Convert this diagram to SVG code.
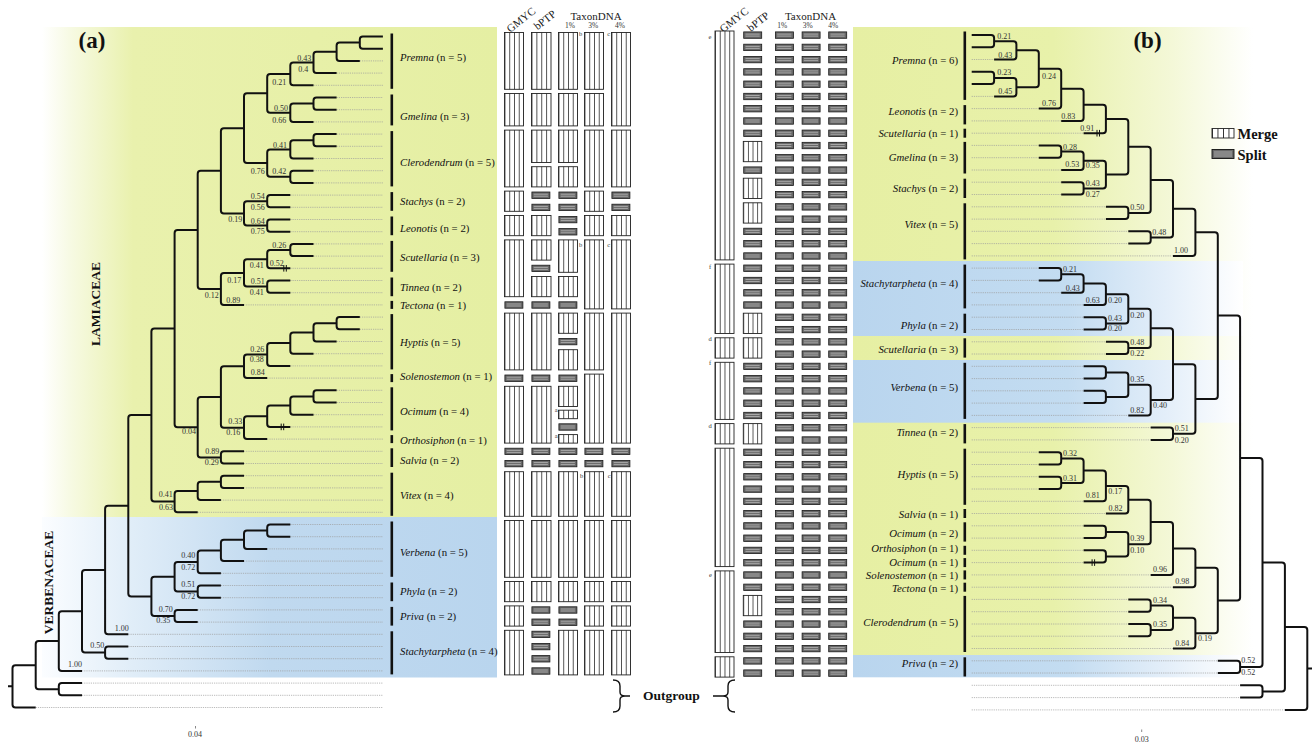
<svg xmlns="http://www.w3.org/2000/svg" xmlns:xlink="http://www.w3.org/1999/xlink" width="1314" height="745" viewBox="0 0 1314 745">
<style>
.br{fill:none;stroke:#111;stroke-width:2}
.dt{fill:none;stroke:#9c9c9c;stroke-width:0.7;stroke-dasharray:1.2 1}
.hs{fill:none;stroke:#111;stroke-width:1}
.sv{font-family:"Liberation Serif",serif;font-size:8px;fill:#333;text-anchor:middle}
.gl{font-family:"Liberation Serif",serif;font-size:10.8px;fill:#111}
.gr{font-family:"Liberation Serif",serif;font-size:10.8px;fill:#111;text-anchor:end}
.bar{fill:#111}
.m{fill:url(#mg);stroke:#222;stroke-width:0.9}
.hd{font-family:"Liberation Serif",serif;font-size:11px;fill:#222;text-anchor:middle}
.pc{font-family:"Liberation Serif",serif;font-size:7.5px;fill:#333;text-anchor:middle}
.an{font-family:"Liberation Serif",serif;font-size:6.5px;fill:#333;text-anchor:middle}
.bd{font-family:"Liberation Serif",serif;font-weight:bold;fill:#111}
</style>
<defs>
<pattern id="mg" patternUnits="objectBoundingBox" patternContentUnits="objectBoundingBox" width="0.25" height="1"><rect width="0.25" height="1" fill="#fff"/><rect x="0" y="0" width="0.04" height="1" fill="#222"/></pattern>
<g id="sp"><rect x="0.4" y="0.4" width="18" height="6.4" fill="#686868" stroke="#1a1a1a" stroke-width="0.8"/><path d="M2.2 2.6H16.4M2.2 4.6H16.4" stroke="#d4d4d4" stroke-width="0.6"/></g>
<g id="r3"><use href="#sp" x="775"/><use href="#sp" x="801.7"/><use href="#sp" x="828.3"/></g>
<linearGradient id="gyL" x1="0" x2="1" y1="0" y2="0"><stop offset="0" stop-color="#ffffff"/><stop offset="0.06" stop-color="#f7fae4"/><stop offset="0.2" stop-color="#e9f1ad"/><stop offset="1" stop-color="#e5efa3"/></linearGradient>
<linearGradient id="gbL" x1="0" x2="1" y1="0" y2="0"><stop offset="0" stop-color="#fbfdff"/><stop offset="0.2" stop-color="#e0edf8"/><stop offset="0.5" stop-color="#c0d9ef"/><stop offset="1" stop-color="#b9d5ee"/></linearGradient>
<linearGradient id="gyR" x1="0" x2="1" y1="0" y2="0"><stop offset="0" stop-color="#e6efa3"/><stop offset="0.5" stop-color="#e8f1aa"/><stop offset="0.8" stop-color="#f4f8d8"/><stop offset="1" stop-color="#ffffff"/></linearGradient>
<linearGradient id="gbR" x1="0" x2="1" y1="0" y2="0"><stop offset="0" stop-color="#b9d5ee"/><stop offset="0.55" stop-color="#c3dcf1"/><stop offset="0.8" stop-color="#e3eef9"/><stop offset="1" stop-color="#ffffff"/></linearGradient>
</defs>
<rect width="1314" height="745" fill="#fff"/>
<g id="panels">
<rect x="42" y="27" width="455" height="490" fill="url(#gyL)"/>
<rect x="42" y="517" width="455" height="160.5" fill="url(#gbL)"/>
<rect x="853" y="27" width="400" height="628" fill="url(#gyR)"/>
<rect x="853" y="261" width="390" height="75" fill="url(#gbR)"/>
<rect x="853" y="360" width="390" height="62.7" fill="url(#gbR)"/>
<rect x="853" y="655" width="390" height="22.3" fill="url(#gbR)"/>
</g>
<g id="titles">
<text class="bd" x="92" y="47.6" font-size="23" text-anchor="middle">(a)</text>
<text class="bd" x="1147.5" y="47.6" font-size="23" text-anchor="middle">(b)</text>
<text class="bd" font-size="13.5" text-anchor="middle" transform="translate(100,304) rotate(-90)">LAMIACEAE</text>
<text class="bd" font-size="13.5" text-anchor="middle" transform="translate(53.3,582.5) rotate(-90)">VERBENACEAE</text>
<text class="bd" x="643" y="700" font-size="13.5">Outgroup</text>
<path d="M613,680Q620,680 620,686V692Q620,696 625,696H630M625,696Q620,696 620,700V706Q620,712 613,712" fill="none" stroke="#111" stroke-width="1.4"/>
<path d="M735,680Q728,680 728,686V692Q728,696 723,696H713M723,696Q728,696 728,700V706Q728,712 735,712" fill="none" stroke="#111" stroke-width="1.4"/>
<text class="sv" x="195" y="737" font-size="9">0.04</text>
<path d="M195.5,726V728.5M1141.7,729.5V732" stroke="#555" stroke-width="0.7"/>
<text class="sv" x="1141.7" y="742" font-size="9">0.03</text>
</g>
<g id="legend">
<rect class="m" x="1212" y="128.5" width="22" height="9.5"/>
<text class="bd" x="1237.5" y="138.5" font-size="14.5">Merge</text>
<rect x="1212" y="149.5" width="22" height="9" fill="#686868" stroke="#111" stroke-width="0.9"/>
<path d="M1214,152H1232M1214,154H1232M1214,156H1232" stroke="#d4d4d4" stroke-width="0.6"/>
<text class="bd" x="1237.5" y="159.5" font-size="14.5">Split</text>
</g>
<g id="headers">
<text class="hd" transform="translate(521,20) rotate(-38)" y="3.5">GMYC</text>
<text class="hd" transform="translate(545,20) rotate(-38)" y="3.5">bPTP</text>
<text class="hd" x="596" y="19.7" font-size="10.5">TaxonDNA</text>
<text class="pc" x="570" y="27.5">1%</text><text class="pc" x="593.3" y="27.5">3%</text><text class="pc" x="620" y="27.5">4%</text>
<text class="hd" transform="translate(734,20) rotate(-38)" y="3.5">GMYC</text>
<text class="hd" transform="translate(758.3,21.7) rotate(-38)" y="3.5">bPTP</text>
<text class="hd" x="810.5" y="19.7" font-size="10.5">TaxonDNA</text>
<text class="pc" x="782.3" y="27.5">1%</text><text class="pc" x="807.7" y="27.5">3%</text><text class="pc" x="833.3" y="27.5">4%</text>
</g>
<g id="connectors">
<path class="dt" d="M359.8,60.9H383M336.6,73.1H383M313.5,85.3H383M336.6,97.5H383M336.6,109.7H383M313.5,121.9H383M336.6,134.1H383M336.6,146.3H383M313.5,158.5H383M313.5,170.7H383M313.5,182.9H383M290.3,195.1H383M290.3,207.3H383M290.3,219.5H383M290.3,231.7H383M313.5,243.9H383M313.5,256.1H383M290.3,268.3H383M290.3,280.5H383M290.3,292.7H383M244,304.9H383M359.8,317.1H383M359.8,329.3H383M336.6,341.5H383M313.5,353.7H383M290.3,365.9H383M267.2,378.1H383M336.6,390.3H383M336.6,402.5H383M313.5,414.7H383M290.3,426.9H383M267.2,439.1H383M244,451.3H383M244,463.5H383M244,475.7H383M244,487.9H383M220.9,500.1H383M197.7,512.3H383M290.3,524.5H383M290.3,536.7H383M267.2,548.9H383M244,561.1H383M220.9,573.3H383M220.9,585.5H383M220.9,597.7H383M197.7,609.9H383M197.7,622.1H383M128.3,634.3H383M128.3,646.5H383M128.3,658.7H383M82,670.9H383M82,683.1H383M82,695.3H383M35.7,707.5H383"/>
<path class="dt" d="M971.7,59.5H994.1M971.7,96.4H994.1M971.7,108.6H1038.8M971.7,120.9H1061.2M971.7,133.2H1083.6M971.7,145.4H1038.8M971.7,157.7H1038.8M971.7,170H1061.2M971.7,182.2H1061.2M971.7,194.5H1061.2M971.7,206.8H1105.9M971.7,219.1H1105.9M971.7,231.3H1128.3M971.7,243.6H1128.3M971.7,255.9H1173M971.7,268.1H1038.8M971.7,280.4H1038.8M971.7,292.7H1061.2M971.7,304.9H1083.6M971.7,317.2H1083.6M971.7,329.5H1083.6M971.7,341.8H1105.9M971.7,354H1105.9M971.7,366.3H1083.6M971.7,378.6H1083.6M971.7,390.8H1083.6M971.7,403.1H1083.6M971.7,415.4H1128.3M971.7,427.6H1150.7M971.7,439.9H1150.7M971.7,452.2H1038.8M971.7,464.5H1038.8M971.7,476.7H1038.8M971.7,489H1038.8M971.7,501.3H1083.6M971.7,513.5H1105.9M971.7,525.8H1083.6M971.7,538.1H1083.6M971.7,550.3H1083.6M971.7,562.6H1083.6M971.7,574.9H1150.7M971.7,587.2H1173M971.7,599.4H1128.3M971.7,611.7H1128.3M971.7,624H1128.3M971.7,636.2H1128.3M971.7,648.5H1173M971.7,660.8H1217.8M971.7,673H1217.8M971.7,685.3H1240.1M971.7,697.6H1240.1M971.7,709.9H1284.9"/>
<path class="br" d="M382.9,36.5H362.8Q359.8,36.5 359.8,39.5V45.7Q359.8,48.7 362.8,48.7H382.9
M359.8,42.6H339.6Q336.6,42.6 336.6,45.6V57.9Q336.6,60.9 339.6,60.9H359.8
M336.6,51.8H316.5Q313.5,51.8 313.5,54.8V70.1Q313.5,73.1 316.5,73.1H336.6
M313.5,62.4H293.3Q290.3,62.4 290.3,65.4V82.3Q290.3,85.3 293.3,85.3H313.5
M336.6,97.5H316.5Q313.5,97.5 313.5,100.5V106.7Q313.5,109.7 316.5,109.7H336.6
M313.5,103.6H293.3Q290.3,103.6 290.3,106.6V118.9Q290.3,121.9 293.3,121.9H313.5
M290.3,73.9H270.2Q267.2,73.9 267.2,76.9V109.8Q267.2,112.8 270.2,112.8H290.3
M336.6,134.1H316.5Q313.5,134.1 313.5,137.1V143.3Q313.5,146.3 316.5,146.3H336.6
M313.5,140.2H293.3Q290.3,140.2 290.3,143.2V155.5Q290.3,158.5 293.3,158.5H313.5
M313.5,170.7H293.3Q290.3,170.7 290.3,173.7V179.9Q290.3,182.9 293.3,182.9H313.5
M290.3,149.4H270.2Q267.2,149.4 267.2,152.4V173.8Q267.2,176.8 270.2,176.8H290.3
M267.2,93.3H247Q244,93.3 244,96.3V160.1Q244,163.1 247,163.1H267.2
M290.3,195.1H270.2Q267.2,195.1 267.2,198.1V204.3Q267.2,207.3 270.2,207.3H290.3
M290.3,219.5H270.2Q267.2,219.5 267.2,222.5V228.7Q267.2,231.7 270.2,231.7H290.3
M267.2,201.2H247Q244,201.2 244,204.2V222.6Q244,225.6 247,225.6H267.2
M244,128.2H223.9Q220.9,128.2 220.9,131.2V210.4Q220.9,213.4 223.9,213.4H244
M313.5,243.9H293.3Q290.3,243.9 290.3,246.9V253.1Q290.3,256.1 293.3,256.1H313.5
M290.3,250H270.2Q267.2,250 267.2,253V265.3Q267.2,268.3 270.2,268.3H290.3
M290.3,280.5H270.2Q267.2,280.5 267.2,283.5V289.7Q267.2,292.7 270.2,292.7H290.3
M267.2,259.2H247Q244,259.2 244,262.2V283.6Q244,286.6 247,286.6H267.2
M244,272.9H223.9Q220.9,272.9 220.9,275.9V301.9Q220.9,304.9 223.9,304.9H244
M220.9,170.8H200.7Q197.7,170.8 197.7,173.8V285.9Q197.7,288.9 200.7,288.9H220.9
M359.8,317.1H339.6Q336.6,317.1 336.6,320.1V326.3Q336.6,329.3 339.6,329.3H359.8
M336.6,323.2H316.5Q313.5,323.2 313.5,326.2V338.5Q313.5,341.5 316.5,341.5H336.6
M313.5,332.4H293.3Q290.3,332.4 290.3,335.4V350.7Q290.3,353.7 293.3,353.7H313.5
M290.3,343H270.2Q267.2,343 267.2,346V362.9Q267.2,365.9 270.2,365.9H290.3
M267.2,354.5H247Q244,354.5 244,357.5V375.1Q244,378.1 247,378.1H267.2
M336.6,390.3H316.5Q313.5,390.3 313.5,393.3V399.5Q313.5,402.5 316.5,402.5H336.6
M313.5,396.4H293.3Q290.3,396.4 290.3,399.4V411.7Q290.3,414.7 293.3,414.7H313.5
M290.3,405.6H270.2Q267.2,405.6 267.2,408.6V423.9Q267.2,426.9 270.2,426.9H290.3
M267.2,416.2H247Q244,416.2 244,419.2V436.1Q244,439.1 247,439.1H267.2
M244,366.3H223.9Q220.9,366.3 220.9,369.3V424.7Q220.9,427.7 223.9,427.7H244
M244,451.3H223.9Q220.9,451.3 220.9,454.3V460.5Q220.9,463.5 223.9,463.5H244
M220.9,397H200.7Q197.7,397 197.7,400V454.4Q197.7,457.4 200.7,457.4H220.9
M197.7,229.9H177.6Q174.6,229.9 174.6,232.9V424.2Q174.6,427.2 177.6,427.2H197.7
M244,475.7H223.9Q220.9,475.7 220.9,478.7V484.9Q220.9,487.9 223.9,487.9H244
M220.9,481.8H200.7Q197.7,481.8 197.7,484.8V497.1Q197.7,500.1 200.7,500.1H220.9
M197.7,491H177.6Q174.6,491 174.6,494V509.3Q174.6,512.3 177.6,512.3H197.7
M174.6,328.5H154.4Q151.4,328.5 151.4,331.5V498.6Q151.4,501.6 154.4,501.6H174.6
M290.3,524.5H270.2Q267.2,524.5 267.2,527.5V533.7Q267.2,536.7 270.2,536.7H290.3
M267.2,530.6H247Q244,530.6 244,533.6V545.9Q244,548.9 247,548.9H267.2
M244,539.8H223.9Q220.9,539.8 220.9,542.8V558.1Q220.9,561.1 223.9,561.1H244
M220.9,550.4H200.7Q197.7,550.4 197.7,553.4V570.3Q197.7,573.3 200.7,573.3H220.9
M220.9,585.5H200.7Q197.7,585.5 197.7,588.5V594.7Q197.7,597.7 200.7,597.7H220.9
M197.7,561.9H177.6Q174.6,561.9 174.6,564.9V588.6Q174.6,591.6 177.6,591.6H197.7
M197.7,609.9H177.6Q174.6,609.9 174.6,612.9V619.1Q174.6,622.1 177.6,622.1H197.7
M174.6,576.7H154.4Q151.4,576.7 151.4,579.7V613Q151.4,616 154.4,616H174.6
M151.4,415.1H131.3Q128.3,415.1 128.3,418.1V593.4Q128.3,596.4 131.3,596.4H151.4
M128.3,505.7H108.1Q105.1,505.7 105.1,508.7V631.3Q105.1,634.3 108.1,634.3H128.3
M128.3,646.5H108.1Q105.1,646.5 105.1,649.5V655.7Q105.1,658.7 108.1,658.7H128.3
M105.1,570H85Q82,570 82,573V649.6Q82,652.6 85,652.6H105.1
M82,611.3H61.8Q58.8,611.3 58.8,614.3V667.9Q58.8,670.9 61.8,670.9H82
M82,683.1H61.8Q58.8,683.1 58.8,686.1V692.3Q58.8,695.3 61.8,695.3H82
M58.8,641.1H38.7Q35.7,641.1 35.7,644.1V686.2Q35.7,689.2 38.7,689.2H58.8
M35.7,665.2H15.5Q12.5,665.2 12.5,668.2V704.5Q12.5,707.5 15.5,707.5H35.7
M8,686.3H12.5"/>
<path class="br" d="M971.7,35H991.1Q994.1,35 994.1,38V44.3Q994.1,47.3 991.1,47.3H971.7
M994.1,41.2H1013.4Q1016.4,41.2 1016.4,44.2V56.5Q1016.4,59.5 1013.4,59.5H994.1
M971.7,71.8H991.1Q994.1,71.8 994.1,74.8V81.1Q994.1,84.1 991.1,84.1H971.7
M994.1,78H1013.4Q1016.4,78 1016.4,81V93.4Q1016.4,96.4 1013.4,96.4H994.1
M1016.4,50.3H1035.8Q1038.8,50.3 1038.8,53.3V84.2Q1038.8,87.2 1035.8,87.2H1016.4
M1038.8,68.8H1058.2Q1061.2,68.8 1061.2,71.8V105.6Q1061.2,108.6 1058.2,108.6H1038.8
M1061.2,88.7H1080.6Q1083.6,88.7 1083.6,91.7V117.9Q1083.6,120.9 1080.6,120.9H1061.2
M1083.6,104.8H1102.9Q1105.9,104.8 1105.9,107.8V130.2Q1105.9,133.2 1102.9,133.2H1083.6
M1038.8,145.4H1058.2Q1061.2,145.4 1061.2,148.4V154.7Q1061.2,157.7 1058.2,157.7H1038.8
M1061.2,151.6H1080.6Q1083.6,151.6 1083.6,154.6V167Q1083.6,170 1080.6,170H1061.2
M1061.2,182.2H1080.6Q1083.6,182.2 1083.6,185.2V191.5Q1083.6,194.5 1080.6,194.5H1061.2
M1083.6,160.8H1102.9Q1105.9,160.8 1105.9,163.8V185.4Q1105.9,188.4 1102.9,188.4H1083.6
M1105.9,119H1125.3Q1128.3,119 1128.3,122V171.6Q1128.3,174.6 1125.3,174.6H1105.9
M1105.9,206.8H1125.3Q1128.3,206.8 1128.3,209.8V216.1Q1128.3,219.1 1125.3,219.1H1105.9
M1128.3,146.8H1147.7Q1150.7,146.8 1150.7,149.8V210Q1150.7,213 1147.7,213H1128.3
M1128.3,231.3H1147.7Q1150.7,231.3 1150.7,234.3V240.6Q1150.7,243.6 1147.7,243.6H1128.3
M1150.7,179.9H1170Q1173,179.9 1173,182.9V234.5Q1173,237.5 1170,237.5H1150.7
M1173,208.7H1192.4Q1195.4,208.7 1195.4,211.7V252.9Q1195.4,255.9 1192.4,255.9H1173
M1038.8,268.1H1058.2Q1061.2,268.1 1061.2,271.1V277.4Q1061.2,280.4 1058.2,280.4H1038.8
M1061.2,274.3H1080.6Q1083.6,274.3 1083.6,277.3V289.7Q1083.6,292.7 1080.6,292.7H1061.2
M1083.6,283.5H1102.9Q1105.9,283.5 1105.9,286.5V301.9Q1105.9,304.9 1102.9,304.9H1083.6
M1083.6,317.2H1102.9Q1105.9,317.2 1105.9,320.2V326.5Q1105.9,329.5 1102.9,329.5H1083.6
M1105.9,294.2H1125.3Q1128.3,294.2 1128.3,297.2V320.4Q1128.3,323.4 1125.3,323.4H1105.9
M1105.9,341.8H1125.3Q1128.3,341.8 1128.3,344.8V351Q1128.3,354 1125.3,354H1105.9
M1128.3,308.8H1147.7Q1150.7,308.8 1150.7,311.8V344.9Q1150.7,347.9 1147.7,347.9H1128.3
M1083.6,366.3H1102.9Q1105.9,366.3 1105.9,369.3V375.6Q1105.9,378.6 1102.9,378.6H1083.6
M1083.6,390.8H1102.9Q1105.9,390.8 1105.9,393.8V400.1Q1105.9,403.1 1102.9,403.1H1083.6
M1105.9,372.5H1125.3Q1128.3,372.5 1128.3,375.5V394Q1128.3,397 1125.3,397H1105.9
M1128.3,384.7H1147.7Q1150.7,384.7 1150.7,387.7V412.4Q1150.7,415.4 1147.7,415.4H1128.3
M1150.7,328.3H1170Q1173,328.3 1173,331.3V397.1Q1173,400.1 1170,400.1H1150.7
M1150.7,427.6H1170Q1173,427.6 1173,430.6V436.9Q1173,439.9 1170,439.9H1150.7
M1173,364.2H1192.4Q1195.4,364.2 1195.4,367.2V430.8Q1195.4,433.8 1192.4,433.8H1173
M1195.4,232.3H1214.8Q1217.8,232.3 1217.8,235.3V396Q1217.8,399 1214.8,399H1195.4
M1038.8,452.2H1058.2Q1061.2,452.2 1061.2,455.2V461.5Q1061.2,464.5 1058.2,464.5H1038.8
M1038.8,476.7H1058.2Q1061.2,476.7 1061.2,479.7V486Q1061.2,489 1058.2,489H1038.8
M1061.2,458.4H1080.6Q1083.6,458.4 1083.6,461.4V479.9Q1083.6,482.9 1080.6,482.9H1061.2
M1083.6,470.6H1102.9Q1105.9,470.6 1105.9,473.6V498.3Q1105.9,501.3 1102.9,501.3H1083.6
M1105.9,486H1125.3Q1128.3,486 1128.3,489V510.5Q1128.3,513.5 1125.3,513.5H1105.9
M1083.6,525.8H1102.9Q1105.9,525.8 1105.9,528.8V535.1Q1105.9,538.1 1102.9,538.1H1083.6
M1083.6,550.3H1102.9Q1105.9,550.3 1105.9,553.3V559.6Q1105.9,562.6 1102.9,562.6H1083.6
M1105.9,532H1125.3Q1128.3,532 1128.3,535V553.5Q1128.3,556.5 1125.3,556.5H1105.9
M1128.3,499.7H1147.7Q1150.7,499.7 1150.7,502.7V541.2Q1150.7,544.2 1147.7,544.2H1128.3
M1150.7,522H1170Q1173,522 1173,525V571.9Q1173,574.9 1170,574.9H1150.7
M1173,548.4H1192.4Q1195.4,548.4 1195.4,551.4V584.2Q1195.4,587.2 1192.4,587.2H1173
M1128.3,599.4H1147.7Q1150.7,599.4 1150.7,602.4V608.7Q1150.7,611.7 1147.7,611.7H1128.3
M1128.3,624H1147.7Q1150.7,624 1150.7,627V633.2Q1150.7,636.2 1147.7,636.2H1128.3
M1150.7,605.6H1170Q1173,605.6 1173,608.6V627.1Q1173,630.1 1170,630.1H1150.7
M1173,617.8H1192.4Q1195.4,617.8 1195.4,620.8V645.5Q1195.4,648.5 1192.4,648.5H1173
M1195.4,567.8H1214.8Q1217.8,567.8 1217.8,570.8V630.2Q1217.8,633.2 1214.8,633.2H1195.4
M1217.8,315.6H1237.1Q1240.1,315.6 1240.1,318.6V597.5Q1240.1,600.5 1237.1,600.5H1217.8
M1217.8,660.8H1237.1Q1240.1,660.8 1240.1,663.8V670Q1240.1,673 1237.1,673H1217.8
M1240.1,458.1H1259.5Q1262.5,458.1 1262.5,461.1V663.9Q1262.5,666.9 1259.5,666.9H1240.1
M1240.1,685.3H1259.5Q1262.5,685.3 1262.5,688.3V694.6Q1262.5,697.6 1259.5,697.6H1240.1
M1262.5,562.5H1281.9Q1284.9,562.5 1284.9,565.5V688.5Q1284.9,691.5 1281.9,691.5H1262.5
M1284.9,627H1304.3Q1307.3,627 1307.3,630V706.9Q1307.3,709.9 1304.3,709.9H1284.9
M1307.3,668.4H1312"/>
<path class="hs" d="M283.8,265V271.6M286.3,265V271.6M281.2,423.6V430.2M283.7,423.6V430.2M1097,129.9V136.5M1099.5,129.9V136.5M1092.1,559.3V565.9M1094.6,559.3V565.9"/>
</g>
<g id="support-left">
<text class="sv" x="304.3" y="60.9">0.43</text><text class="sv" x="303.3" y="71.9">0.4</text><text class="sv" x="279.3" y="84.9">0.21</text>
<text class="sv" x="281" y="110.9">0.50</text><text class="sv" x="279.3" y="122.6">0.66</text>
<text class="sv" x="280" y="148.3">0.41</text><text class="sv" x="257.7" y="173.9">0.76</text><text class="sv" x="279.3" y="173.9">0.42</text>
<text class="sv" x="257.7" y="198.9">0.54</text><text class="sv" x="257.7" y="209.9">0.56</text><text class="sv" x="235.3" y="221.6">0.19</text>
<text class="sv" x="257.7" y="223.6">0.64</text><text class="sv" x="257.7" y="234.3">0.75</text>
<text class="sv" x="279.3" y="247.9">0.26</text><text class="sv" x="256.7" y="267.6">0.41</text><text class="sv" x="276.7" y="265.9">0.52</text>
<text class="sv" x="234.3" y="282.9">0.17</text><text class="sv" x="257.7" y="283.9">0.51</text><text class="sv" x="256.7" y="294.9">0.41</text>
<text class="sv" x="211.7" y="297.9">0.12</text><text class="sv" x="233.3" y="302.6">0.89</text>
<text class="sv" x="257.3" y="351.6">0.26</text><text class="sv" x="256.7" y="361.9">0.38</text><text class="sv" x="257.7" y="374.9">0.84</text>
<text class="sv" x="235.3" y="423.9">0.33</text><text class="sv" x="189" y="434.3">0.04</text><text class="sv" x="233.3" y="435.3">0.16</text>
<text class="sv" x="212.3" y="453.6">0.89</text><text class="sv" x="211.7" y="464.9">0.29</text>
<text class="sv" x="165.7" y="496.9">0.41</text><text class="sv" x="166" y="509.9">0.63</text>
<text class="sv" x="188.3" y="557.9">0.40</text><text class="sv" x="188.3" y="569.9">0.72</text>
<text class="sv" x="188.3" y="586.9">0.51</text><text class="sv" x="188.3" y="598.9">0.72</text>
<text class="sv" x="165.7" y="611.6">0.70</text><text class="sv" x="163.3" y="622.9">0.35</text>
<text class="sv" x="121.7" y="630.9">1.00</text><text class="sv" x="97.3" y="647.9">0.50</text><text class="sv" x="75" y="666.9">1.00</text>
</g>
<g id="support-right">
<text class="sv" x="1004.3" y="39.3">0.21</text><text class="sv" x="1005.3" y="57.6">0.43</text><text class="sv" x="1049" y="78.6">0.24</text>
<text class="sv" x="1004.3" y="75.3">0.23</text><text class="sv" x="1005.3" y="93.6">0.45</text><text class="sv" x="1049" y="105.9">0.76</text>
<text class="sv" x="1068.3" y="119.3">0.83</text><text class="sv" x="1087.3" y="130.9">0.91</text>
<text class="sv" x="1070" y="149.6">0.28</text><text class="sv" x="1072.3" y="167.3">0.53</text><text class="sv" x="1092.7" y="168.3">0.35</text>
<text class="sv" x="1092.7" y="185.9">0.43</text><text class="sv" x="1092.7" y="196.9">0.27</text>
<text class="sv" x="1137.3" y="209.9">0.50</text><text class="sv" x="1159.3" y="234.9">0.48</text><text class="sv" x="1181" y="252.6">1.00</text>
<text class="sv" x="1070" y="271.9">0.21</text><text class="sv" x="1072.7" y="290.9">0.43</text>
<text class="sv" x="1092.7" y="302.9">0.63</text><text class="sv" x="1115" y="302.9">0.20</text>
<text class="sv" x="1137.3" y="317.9">0.20</text><text class="sv" x="1115" y="320.9">0.43</text><text class="sv" x="1115" y="331.3">0.20</text>
<text class="sv" x="1137.3" y="344.9">0.48</text><text class="sv" x="1137.3" y="355.9">0.22</text>
<text class="sv" x="1137.3" y="381.9">0.35</text><text class="sv" x="1137.3" y="412.9">0.82</text><text class="sv" x="1160" y="407.9">0.40</text>
<text class="sv" x="1181.7" y="430.9">0.51</text><text class="sv" x="1181.7" y="442.9">0.20</text>
<text class="sv" x="1070" y="455.6">0.32</text><text class="sv" x="1070" y="480.9">0.31</text>
<text class="sv" x="1092.7" y="497.9">0.81</text><text class="sv" x="1115.3" y="494">0.17</text><text class="sv" x="1115.5" y="510.6">0.82</text>
<text class="sv" x="1137.3" y="540.9">0.39</text><text class="sv" x="1137.3" y="552.6">0.10</text>
<text class="sv" x="1160" y="571.9">0.96</text><text class="sv" x="1182.3" y="584.3">0.98</text>
<text class="sv" x="1160" y="602.6">0.34</text><text class="sv" x="1160" y="626.9">0.35</text>
<text class="sv" x="1182.3" y="645.9">0.84</text><text class="sv" x="1205" y="640.9">0.19</text>
<text class="sv" x="1248.3" y="662.9">0.52</text><text class="sv" x="1248.3" y="674.9">0.52</text>
</g>
<g id="taxa-left">
<g id="L-premna"><rect class="bar" x="390.5" y="33.5" width="2.6" height="55.3"/><text class="gl" x="400" y="61.2"><tspan font-style="italic">Premna</tspan> (n = 5)</text></g>
<g id="L-gmelina"><rect class="bar" x="390.5" y="94.5" width="2.6" height="30.9"/><text class="gl" x="400" y="120.2"><tspan font-style="italic">Gmelina</tspan> (n = 3)</text></g>
<g id="L-clerodendrum"><rect class="bar" x="390.5" y="131.1" width="2.6" height="55.3"/><text class="gl" x="400" y="166.2"><tspan font-style="italic">Clerodendrum</tspan> (n = 5)</text></g>
<g id="L-stachys"><rect class="bar" x="390.5" y="192.1" width="2.6" height="18.7"/><text class="gl" x="400" y="205.2"><tspan font-style="italic">Stachys</tspan> (n = 2)</text></g>
<g id="L-leonotis"><rect class="bar" x="390.5" y="216.5" width="2.6" height="18.7"/><text class="gl" x="400" y="231.8"><tspan font-style="italic">Leonotis</tspan> (n = 2)</text></g>
<g id="L-scutellaria"><rect class="bar" x="390.5" y="240.9" width="2.6" height="30.9"/><text class="gl" x="400" y="261.2"><tspan font-style="italic">Scutellaria</tspan> (n = 3)</text></g>
<g id="L-tinnea"><rect class="bar" x="390.5" y="277.5" width="2.6" height="18.7"/><text class="gl" x="400" y="290.8"><tspan font-style="italic">Tinnea</tspan> (n = 2)</text></g>
<g id="L-tectona"><rect class="bar" x="390.5" y="300.9" width="2.6" height="8"/><text class="gl" x="400" y="308.8"><tspan font-style="italic">Tectona</tspan> (n = 1)</text></g>
<g id="L-hyptis"><rect class="bar" x="390.5" y="314.1" width="2.6" height="55.3"/><text class="gl" x="400" y="346.2"><tspan font-style="italic">Hyptis</tspan> (n = 5)</text></g>
<g id="L-solenostemon"><rect class="bar" x="390.5" y="374.1" width="2.6" height="8"/><text class="gl" x="400" y="380.2"><tspan font-style="italic">Solenostemon</tspan> (n = 1)</text></g>
<g id="L-ocimum"><rect class="bar" x="390.5" y="387.3" width="2.6" height="43.1"/><text class="gl" x="400" y="415.2"><tspan font-style="italic">Ocimum</tspan> (n = 4)</text></g>
<g id="L-orthosiphon"><rect class="bar" x="390.5" y="435.1" width="2.6" height="8"/><text class="gl" x="400" y="444.2"><tspan font-style="italic">Orthosiphon</tspan> (n = 1)</text></g>
<g id="L-salvia"><rect class="bar" x="390.5" y="448.3" width="2.6" height="18.7"/><text class="gl" x="400" y="463.5"><tspan font-style="italic">Salvia</tspan> (n = 2)</text></g>
<g id="L-vitex"><rect class="bar" x="390.5" y="472.7" width="2.6" height="43.1"/><text class="gl" x="400" y="498.5"><tspan font-style="italic">Vitex</tspan> (n = 4)</text></g>
<g id="L-verbena"><rect class="bar" x="390.5" y="521.5" width="2.6" height="55.3"/><text class="gl" x="400" y="556.2"><tspan font-style="italic">Verbena</tspan> (n = 5)</text></g>
<g id="L-phyla"><rect class="bar" x="390.5" y="582.5" width="2.6" height="18.7"/><text class="gl" x="400" y="595.2"><tspan font-style="italic">Phyla</tspan> (n = 2)</text></g>
<g id="L-priva"><rect class="bar" x="390.5" y="606.9" width="2.6" height="18.7"/><text class="gl" x="400" y="620.2"><tspan font-style="italic">Priva</tspan> (n = 2)</text></g>
<g id="L-stachytarpheta"><rect class="bar" x="390.5" y="631.3" width="2.6" height="43.1"/><text class="gl" x="400" y="655.2"><tspan font-style="italic">Stachytarpheta</tspan> (n = 4)</text></g>
</g>
<g id="taxa-right">
<g id="R-premna"><rect class="bar" x="963.5" y="31.5" width="2.6" height="68.4"/><text class="gr" x="958" y="63.5"><tspan font-style="italic">Premna</tspan> (n = 6)</text></g>
<g id="R-leonotis"><rect class="bar" x="963.5" y="105.1" width="2.6" height="19.3"/><text class="gr" x="958" y="115.2"><tspan font-style="italic">Leonotis</tspan> (n = 2)</text></g>
<g id="R-scutellaria1"><rect class="bar" x="963.5" y="128.7" width="2.6" height="9"/><text class="gr" x="958" y="136.8"><tspan font-style="italic">Scutellaria</tspan> (n = 1)</text></g>
<g id="R-gmelina"><rect class="bar" x="963.5" y="141.9" width="2.6" height="31.6"/><text class="gr" x="958" y="160.8"><tspan font-style="italic">Gmelina</tspan> (n = 3)</text></g>
<g id="R-stachys"><rect class="bar" x="963.5" y="178.7" width="2.6" height="19.3"/><text class="gr" x="958" y="191.8"><tspan font-style="italic">Stachys</tspan> (n = 2)</text></g>
<g id="R-vitex"><rect class="bar" x="963.5" y="203.3" width="2.6" height="56.1"/><text class="gr" x="958" y="227.8"><tspan font-style="italic">Vitex</tspan> (n = 5)</text></g>
<g id="R-stachytarpheta"><rect class="bar" x="963.5" y="264.6" width="2.6" height="43.8"/><text class="gr" x="958" y="286.8"><tspan font-style="italic">Stachytarpheta</tspan> (n = 4)</text></g>
<g id="R-phyla"><rect class="bar" x="963.5" y="313.7" width="2.6" height="19.3"/><text class="gr" x="958" y="328.5"><tspan font-style="italic">Phyla</tspan> (n = 2)</text></g>
<g id="R-scutellaria3"><rect class="bar" x="963.5" y="338.3" width="2.6" height="19.3"/><text class="gr" x="958" y="352.8"><tspan font-style="italic">Scutellaria</tspan> (n = 3)</text></g>
<g id="R-verbena"><rect class="bar" x="963.5" y="362.8" width="2.6" height="56.1"/><text class="gr" x="958" y="390.8"><tspan font-style="italic">Verbena</tspan> (n = 5)</text></g>
<g id="R-tinnea"><rect class="bar" x="963.5" y="424.1" width="2.6" height="19.3"/><text class="gr" x="958" y="435.8"><tspan font-style="italic">Tinnea</tspan> (n = 2)</text></g>
<g id="R-hyptis"><rect class="bar" x="963.5" y="448.7" width="2.6" height="56.1"/><text class="gr" x="958" y="477.8"><tspan font-style="italic">Hyptis</tspan> (n = 5)</text></g>
<g id="R-salvia"><rect class="bar" x="963.5" y="509" width="2.6" height="9"/><text class="gr" x="958" y="517.8"><tspan font-style="italic">Salvia</tspan> (n = 1)</text></g>
<g id="R-ocimum2"><rect class="bar" x="963.5" y="522.3" width="2.6" height="19.3"/><text class="gr" x="958" y="537.2"><tspan font-style="italic">Ocimum</tspan> (n = 2)</text></g>
<g id="R-orthosiphon"><rect class="bar" x="963.5" y="545.8" width="2.6" height="9"/><text class="gr" x="958" y="552.2"><tspan font-style="italic">Orthosiphon</tspan> (n = 1)</text></g>
<g id="R-ocimum1"><rect class="bar" x="963.5" y="558.1" width="2.6" height="9"/><text class="gr" x="958" y="565.8"><tspan font-style="italic">Ocimum</tspan> (n = 1)</text></g>
<g id="R-solenostemon"><rect class="bar" x="963.5" y="570.4" width="2.6" height="9"/><text class="gr" x="958" y="578.8"><tspan font-style="italic">Solenostemon</tspan> (n = 1)</text></g>
<g id="R-tectona"><rect class="bar" x="963.5" y="582.7" width="2.6" height="9"/><text class="gr" x="958" y="591.5"><tspan font-style="italic">Tectona</tspan> (n = 1)</text></g>
<g id="R-clerodendrum"><rect class="bar" x="963.5" y="595.9" width="2.6" height="56.1"/><text class="gr" x="958" y="626.2"><tspan font-style="italic">Clerodendrum</tspan> (n = 5)</text></g>
<g id="R-priva"><rect class="bar" x="963.5" y="657.3" width="2.6" height="19.2"/><text class="gr" x="958" y="667.2"><tspan font-style="italic">Priva</tspan> (n = 2)</text></g>
</g>
<g id="cols-left">
<g id="L-gmyc" transform="translate(504.5,0)">
<rect class="m" y="32.5" width="19" height="56.8"/><rect class="m" y="93.5" width="19" height="32.4"/><rect class="m" y="130.1" width="19" height="56.8"/><rect class="m" y="191.1" width="19" height="20.2"/><rect class="m" y="215.5" width="19" height="20.2"/><rect class="m" y="239.9" width="19" height="56.8"/><use href="#sp" y="301.4"/><rect class="m" y="313.1" width="19" height="56.8"/><use href="#sp" y="374.6"/><rect class="m" y="386.3" width="19" height="56.8"/><use href="#sp" y="447.8"/><use href="#sp" y="460"/><rect class="m" y="471.7" width="19" height="44.6"/><rect class="m" y="520.5" width="19" height="56.8"/><rect class="m" y="581.5" width="19" height="20.2"/><rect class="m" y="605.9" width="19" height="20.2"/><rect class="m" y="630.3" width="19" height="44.6"/>
</g>
<g id="L-bptp" transform="translate(531.5,0)">
<rect class="m" y="32.5" width="19.5" height="56.8"/><rect class="m" y="93.5" width="19.5" height="32.4"/><rect class="m" y="130.1" width="19.5" height="32.4"/><rect class="m" y="166.7" width="19.5" height="20.2"/><use href="#sp" y="191.6"/><use href="#sp" y="203.8"/><rect class="m" y="215.5" width="19.5" height="20.2"/><rect class="m" y="239.9" width="19.5" height="20.2"/><use href="#sp" y="264.8"/><rect class="m" y="276.5" width="19.5" height="20.2"/><use href="#sp" y="301.4"/><rect class="m" y="313.1" width="19.5" height="56.8"/><use href="#sp" y="374.6"/><rect class="m" y="386.3" width="19.5" height="56.8"/><use href="#sp" y="447.8"/><use href="#sp" y="460"/><rect class="m" y="471.7" width="19.5" height="44.6"/><rect class="m" y="520.5" width="19.5" height="56.8"/><rect class="m" y="581.5" width="19.5" height="20.2"/><use href="#sp" y="606.4"/><use href="#sp" y="618.6"/><use href="#sp" y="630.8"/><use href="#sp" y="643"/><use href="#sp" y="655.2"/><use href="#sp" y="667.4"/>
</g>
<g id="L-t1" transform="translate(558.5,0)">
<rect class="m" y="32.5" width="19" height="56.8"/><rect class="m" y="93.5" width="19" height="32.4"/><rect class="m" y="130.1" width="19" height="32.4"/><rect class="m" y="166.7" width="19" height="20.2"/><use href="#sp" y="191.6"/><use href="#sp" y="203.8"/><use href="#sp" y="216"/><use href="#sp" y="228.2"/><rect class="m" y="239.9" width="19" height="32.4"/><rect class="m" y="276.5" width="19" height="20.2"/><use href="#sp" y="301.4"/><rect class="m" y="313.1" width="19" height="20.2"/><use href="#sp" y="338"/><rect class="m" y="349.7" width="19" height="20.2"/><use href="#sp" y="374.6"/><rect class="m" y="386.3" width="19" height="20.2"/><rect class="m" y="410.2" width="19" height="8.5"/><use href="#sp" y="423.4"/><rect class="m" y="434.6" width="19" height="8.5"/><use href="#sp" y="447.8"/><use href="#sp" y="460"/><rect class="m" y="471.7" width="19" height="44.6"/><rect class="m" y="520.5" width="19" height="56.8"/><rect class="m" y="581.5" width="19" height="20.2"/><use href="#sp" y="606.4"/><use href="#sp" y="618.6"/><rect class="m" y="630.3" width="19" height="44.6"/>
</g>
<g id="L-t3" transform="translate(584.5,0)">
<rect class="m" y="32.5" width="19" height="56.8"/><rect class="m" y="93.5" width="19" height="32.4"/><rect class="m" y="130.1" width="19" height="56.8"/><rect class="m" y="191.1" width="19" height="20.2"/><rect class="m" y="215.5" width="19" height="20.2"/><rect class="m" y="239.9" width="19" height="69"/><rect class="m" y="313.1" width="19" height="56.8"/><rect class="m" y="374.1" width="19" height="69"/><use href="#sp" y="447.8"/><use href="#sp" y="460"/><rect class="m" y="471.7" width="19" height="44.6"/><rect class="m" y="520.5" width="19" height="56.8"/><rect class="m" y="581.5" width="19" height="20.2"/><rect class="m" y="605.9" width="19" height="20.2"/><rect class="m" y="630.3" width="19" height="44.6"/>
</g>
<g id="L-t4" transform="translate(611.5,0)">
<rect class="m" y="32.5" width="19" height="93.4"/><rect class="m" y="130.1" width="19" height="56.8"/><use href="#sp" y="191.6"/><use href="#sp" y="203.8"/><rect class="m" y="215.5" width="19" height="20.2"/><rect class="m" y="239.9" width="19" height="69"/><rect class="m" y="313.1" width="19" height="130"/><use href="#sp" y="447.8"/><use href="#sp" y="460"/><rect class="m" y="471.7" width="19" height="44.6"/><rect class="m" y="520.5" width="19" height="56.8"/><rect class="m" y="581.5" width="19" height="20.2"/><rect class="m" y="605.9" width="19" height="20.2"/><rect class="m" y="630.3" width="19" height="44.6"/>
</g>
<text class="an" x="580.7" y="35.5">b</text><text class="an" x="608.7" y="35.5">c</text>
<text class="an" x="580.7" y="246.5">b</text><text class="an" x="608.7" y="246.5">c</text>
<text class="an" x="556.2" y="412">a</text><text class="an" x="556.2" y="437.5">a</text>
<text class="an" x="581.7" y="477.9">b</text><text class="an" x="609.3" y="477.9">c</text>
</g>
<g id="cols-right">
<g id="R-gmyc" transform="translate(715,0)">
<rect class="m" y="31" width="19" height="228.9"/><rect class="m" y="264.1" width="19" height="69.4"/><rect class="m" y="337.8" width="19" height="20.3"/><rect class="m" y="362.3" width="19" height="57.1"/><rect class="m" y="423.6" width="19" height="20.3"/><rect class="m" y="448.2" width="19" height="118.4"/><rect class="m" y="570.9" width="19" height="81.6"/><rect class="m" y="656.8" width="19" height="20.3"/>
</g>
<text class="an" x="710" y="38.7">e</text><text class="an" x="710" y="269">f</text><text class="an" x="710" y="340.5">d</text><text class="an" x="710" y="364.5">f</text><text class="an" x="710" y="428">d</text><text class="an" x="710.5" y="576.5">e</text>
<g id="R-bptp" transform="translate(743.3,0)">
<use href="#sp" y="31.5"/><use href="#sp" y="43.8"/><use href="#sp" y="56"/><use href="#sp" y="68.3"/><use href="#sp" y="80.6"/><use href="#sp" y="92.9"/><use href="#sp" y="105.1"/><use href="#sp" y="117.4"/><use href="#sp" y="129.7"/>
<rect class="m" y="141.4" width="18.5" height="20.3"/><use href="#sp" y="166.5"/><rect class="m" y="178.2" width="18.5" height="20.3"/><rect class="m" y="202.8" width="18.5" height="20.3"/>
<use href="#sp" y="227.8"/><use href="#sp" y="240.1"/><use href="#sp" y="252.4"/><use href="#sp" y="264.6"/><use href="#sp" y="276.9"/><use href="#sp" y="289.2"/><use href="#sp" y="301.4"/>
<rect class="m" y="313.2" width="18.5" height="20.3"/><rect class="m" y="337.8" width="18.5" height="20.3"/>
<use href="#sp" y="362.8"/><use href="#sp" y="375.1"/><use href="#sp" y="387.3"/><use href="#sp" y="399.6"/><use href="#sp" y="411.9"/>
<rect class="m" y="423.6" width="18.5" height="20.3"/>
<use href="#sp" y="448.7"/><use href="#sp" y="461"/><use href="#sp" y="473.2"/><use href="#sp" y="485.5"/><use href="#sp" y="497.8"/><use href="#sp" y="510"/><use href="#sp" y="522.3"/><use href="#sp" y="534.6"/><use href="#sp" y="546.8"/><use href="#sp" y="559.1"/><use href="#sp" y="571.4"/><use href="#sp" y="583.7"/>
<rect class="m" y="595.4" width="18.5" height="20.3"/>
<use href="#sp" y="620.5"/><use href="#sp" y="632.7"/><use href="#sp" y="645"/><use href="#sp" y="657.3"/><use href="#sp" y="669.5"/>
</g>
<g id="R-taxondna">
<use href="#r3" y="31.5"/><use href="#r3" y="43.77"/><use href="#r3" y="56.04"/><use href="#r3" y="68.31"/><use href="#r3" y="80.58"/><use href="#r3" y="92.85"/><use href="#r3" y="105.12"/><use href="#r3" y="117.39"/><use href="#r3" y="129.66"/><use href="#r3" y="141.93"/><use href="#r3" y="154.2"/><use href="#r3" y="166.47"/><use href="#r3" y="178.74"/><use href="#r3" y="191.01"/><use href="#r3" y="203.28"/><use href="#r3" y="215.55"/><use href="#r3" y="227.82"/><use href="#r3" y="240.09"/><use href="#r3" y="252.36"/><use href="#r3" y="264.63"/><use href="#r3" y="276.9"/><use href="#r3" y="289.17"/><use href="#r3" y="301.44"/><use href="#r3" y="313.71"/><use href="#r3" y="325.98"/><use href="#r3" y="338.25"/><use href="#r3" y="350.52"/><use href="#r3" y="362.79"/><use href="#r3" y="375.06"/><use href="#r3" y="387.33"/><use href="#r3" y="399.6"/><use href="#r3" y="411.87"/><use href="#r3" y="424.14"/><use href="#r3" y="436.41"/><use href="#r3" y="448.68"/><use href="#r3" y="460.95"/><use href="#r3" y="473.22"/><use href="#r3" y="485.49"/><use href="#r3" y="497.76"/><use href="#r3" y="510.03"/><use href="#r3" y="522.3"/><use href="#r3" y="534.57"/><use href="#r3" y="546.84"/><use href="#r3" y="559.11"/><use href="#r3" y="571.38"/><use href="#r3" y="583.65"/><use href="#r3" y="595.92"/><use href="#r3" y="608.19"/><use href="#r3" y="620.46"/><use href="#r3" y="632.73"/><use href="#r3" y="645"/><use href="#r3" y="657.27"/><use href="#r3" y="669.54"/>
</g>
</g>
</svg>
